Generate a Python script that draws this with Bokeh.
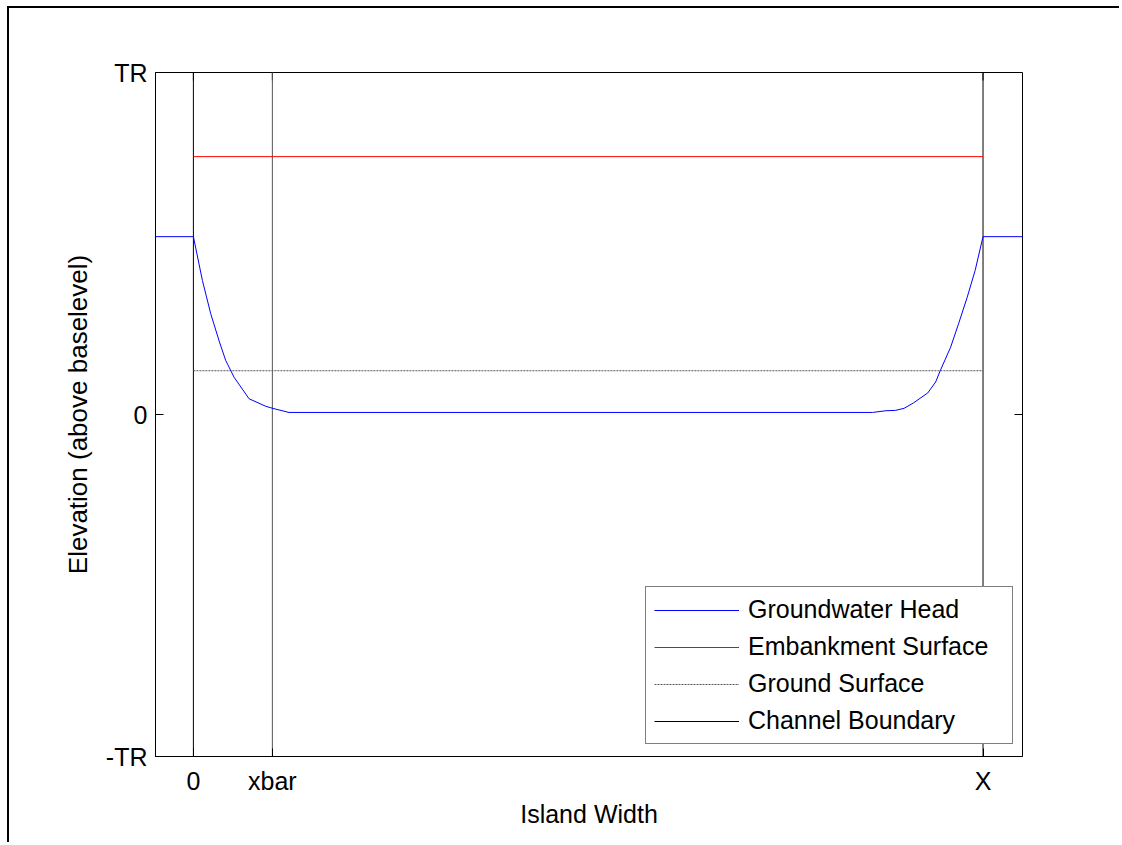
from bokeh.plotting import figure
from bokeh.models import Range1d, FixedTicker, Legend, LegendItem
from bokeh.embed import file_html
from bokeh.resources import INLINE

# ---- data (normalised: X = 1, TR = 1) ----
head_x = [-0.2, 0.0, 0.0114, 0.0219, 0.033, 0.0409, 0.0515, 0.0705, 0.0916, 0.102, 0.121,
          0.86, 0.877, 0.889, 0.900, 0.912, 0.930, 0.940, 0.946, 0.959, 0.969, 0.980,
          0.990, 1.0, 1.2]
head_y = [0.52, 0.52, 0.392, 0.295, 0.212, 0.158, 0.109, 0.046, 0.024, 0.017, 0.006,
          0.006, 0.011, 0.012, 0.018, 0.034, 0.063, 0.095, 0.129, 0.197, 0.265, 0.343,
          0.421, 0.52, 0.52]
surface_x = [0.0, 1.0]
embankment_y = [0.754, 0.754]
ground_y = [0.128, 0.128]
channel_x = [0.0, 1.0]
xbar_x = [0.1]
x_ticks = [0.0, 0.1, 1.0]
x_tick_labels = ["0", "xbar", "X"]
y_ticks = [-1.0, 0.0, 1.0]
y_tick_labels = ["-TR", "0", "TR"]

FONT = "Liberation Sans"
FS = "25px"
XMIN, XMAX = -0.048, 1.050
YMIN, YMAX = -1.0, 1.0

p = figure(width=1112, height=836, output_backend="svg", toolbar_location=None,
           x_range=Range1d(XMIN, XMAX), y_range=Range1d(YMIN, YMAX),
           min_border_left=146, min_border_right=99, min_border_top=64, min_border_bottom=88,
           x_axis_label="Island Width", y_axis_label="Elevation (above baselevel)")
p.grid.visible = False
p.outline_line_color = "black"
p.outline_line_width = 1
p.background_fill_color = "white"
p.border_fill_color = "white"
p.styles = {"margin-left": "7px", "margin-top": "6px",
            "border-top": "2px solid black", "border-left": "2px solid black"}

p.xaxis.ticker = FixedTicker(ticks=x_ticks)
p.yaxis.ticker = FixedTicker(ticks=y_ticks)
p.xaxis.major_label_overrides = {t: l for t, l in zip(x_ticks, x_tick_labels)}
p.yaxis.major_label_overrides = {t: l for t, l in zip(y_ticks, y_tick_labels)}

for ax in [p.xaxis[0], p.yaxis[0]]:
    ax.axis_line_color = "black"
    ax.major_tick_in = 8
    ax.major_tick_out = 0
    ax.minor_tick_line_color = None
    ax.major_tick_line_color = "black"
    ax.major_label_text_font = FONT
    ax.major_label_text_font_size = FS
    ax.major_label_text_color = "black"
    ax.axis_label_text_font = FONT
    ax.axis_label_text_font_size = FS
    ax.axis_label_text_font_style = "normal"
    ax.axis_label_text_color = "black"
    ax.major_label_standoff = 8
p.xaxis.major_label_standoff = 10
p.xaxis.axis_label_standoff = 2
p.yaxis.axis_label_standoff = 10
p.yaxis.axis_label_text_font_size = "26px"

# mirrored tick marks on the top and right edges of the box
tick_dx = (XMAX - XMIN) * 8 / 867
tick_dy = (YMAX - YMIN) * 8 / 684
p.segment(x0=x_ticks, y0=[YMAX] * len(x_ticks), x1=x_ticks, y1=[YMAX - tick_dy] * len(x_ticks),
          line_color="black", line_width=1)
p.segment(x0=[XMAX] * len(y_ticks), y0=y_ticks, x1=[XMAX - tick_dx] * len(y_ticks), y1=y_ticks,
          line_color="black", line_width=1)

# vertical lines
r_chan = p.segment(x0=channel_x, y0=YMIN - 1, x1=channel_x, y1=YMAX + 1, line_color="black", line_width=1)
p.segment(x0=xbar_x, y0=YMIN - 1, x1=xbar_x, y1=YMAX + 1, line_color="#555555", line_width=1)

r_emb = p.line(surface_x, embankment_y, line_color="#ff0000", line_width=1)
r_gnd = p.line(surface_x, ground_y, line_color="#555555", line_width=1, line_dash="2 1")
r_head = p.line(head_x, head_y, line_color="#0000ff", line_width=1)

legend = Legend(items=[
    LegendItem(label="Groundwater Head", renderers=[r_head]),
    LegendItem(label="Embankment Surface", renderers=[r_emb]),
    LegendItem(label="Ground Surface", renderers=[r_gnd]),
    LegendItem(label="Channel Boundary", renderers=[r_chan]),
], location=(490, 12))
legend.label_text_font = FONT
legend.label_text_font_size = FS
legend.label_text_color = "black"
legend.glyph_width = 85
legend.glyph_height = 24
legend.label_height = 24
legend.label_width = 256
legend.spacing = 8
legend.padding = 8
legend.label_standoff = 9
legend.border_line_color = "black"
legend.border_line_width = 1
legend.background_fill_alpha = 1
legend.margin = 0
p.add_layout(legend, "center")

open("out.html", "w").write(file_html(p, INLINE))
